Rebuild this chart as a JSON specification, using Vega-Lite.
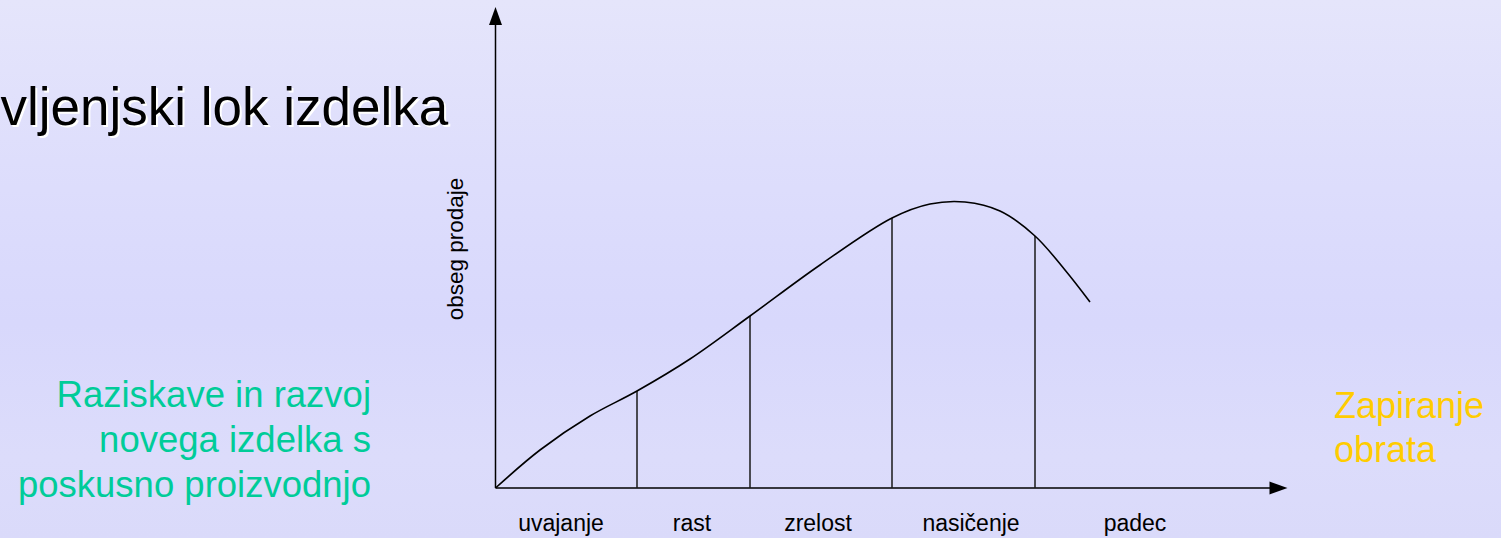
{
  "$schema": "https://vega.github.io/schema/vega-lite/v6.json",
  "width": 1501,
  "height": 538,
  "padding": 0,
  "autosize": {"type": "fit", "contains": "padding"},
  "background": "#dcdcfb",
  "config": {"view": {"stroke": null}, "font": "Liberation Sans"},
  "datasets": {
    "curve": [
      {"t": 0, "s": 0}, {"t": 44.5, "s": 38}, {"t": 94.5, "s": 72}, {"t": 141.5, "s": 97},
      {"t": 194.5, "s": 129}, {"t": 254.5, "s": 172}, {"t": 324.5, "s": 223}, {"t": 396.5, "s": 270},
      {"t": 434.5, "s": 284}, {"t": 469.5, "s": 286}, {"t": 504.5, "s": 277}, {"t": 539.5, "s": 252},
      {"t": 569.5, "s": 218}, {"t": 594.5, "s": 186}
    ],
    "bounds": [
      {"t": 141.5, "s": 97}, {"t": 254.5, "s": 172}, {"t": 396.5, "s": 270}, {"t": 539.5, "s": 252}
    ],
    "phases": [
      {"t": 65.5, "s": -43, "label": "uvajanje"},
      {"t": 196.5, "s": -43, "label": "rast"},
      {"t": 322.5, "s": -43, "label": "zrelost"},
      {"t": 475.5, "s": -43, "label": "nasičenje"},
      {"t": 639.5, "s": -43, "label": "padec"}
    ]
  },
  "encoding": {
    "x": {"field": "t", "type": "quantitative", "scale": {"domain": [-495.5, 1005.5], "nice": false, "zero": false}, "axis": null},
    "y": {"field": "s", "type": "quantitative", "scale": {"domain": [-50, 488], "nice": false, "zero": false}, "axis": null}
  },
  "layer": [
    {
      "data": {"values": [{"t": -495.5, "s": 488, "t2": 1005.5, "s2": -50}]},
      "mark": {"type": "rect", "color": {"gradient": "linear", "x1": 0, "y1": 0, "x2": 0, "y2": 1,
        "stops": [{"offset": 0, "color": "#e5e5fb"}, {"offset": 0.3, "color": "#dedefc"}, {"offset": 0.6, "color": "#d8d8fc"}, {"offset": 0.85, "color": "#dcdcfb"}, {"offset": 1, "color": "#dadafa"}]}},
      "encoding": {"x2": {"field": "t2"}, "y2": {"field": "s2"}}
    },
    {
      "data": {"values": [{"t": 0, "s": 0, "t2": 775, "s2": 0}, {"t": 0, "s": 0, "t2": 0, "s2": 463}]},
      "mark": {"type": "rule", "color": "#000000", "strokeWidth": 1.5},
      "encoding": {"x2": {"field": "t2"}, "y2": {"field": "s2"}}
    },
    {
      "data": {"values": [{"t": 783, "s": 0}]},
      "mark": {"type": "point", "shape": "M-1,-0.72L1,0L-1,0.72Z", "size": 324, "filled": true, "color": "#000000", "opacity": 1},
      "encoding": {}
    },
    {
      "data": {"values": [{"t": 0, "s": 472}]},
      "mark": {"type": "point", "shape": "M-0.72,1L0,-1L0.72,1Z", "size": 324, "filled": true, "color": "#000000", "opacity": 1},
      "encoding": {}
    },
    {
      "data": {"name": "bounds"},
      "mark": {"type": "rule", "color": "#1a1a1a", "strokeWidth": 1.5},
      "encoding": {"y": {"datum": 0}, "y2": {"field": "s"}}
    },
    {
      "data": {"name": "curve"},
      "mark": {"type": "line", "color": "#000000", "strokeWidth": 1.6, "interpolate": "catmull-rom"},
      "encoding": {}
    },
    {
      "data": {"name": "phases"},
      "mark": {"type": "text", "fontSize": 23, "color": "#000000", "align": "center", "baseline": "alphabetic"},
      "encoding": {"text": {"field": "label"}}
    },
    {
      "data": {"values": [{"t": -39.5, "s": 239, "label": "obseg prodaje"}]},
      "mark": {"type": "text", "fontSize": 22.5, "color": "#000000", "align": "center", "baseline": "middle", "angle": 270},
      "encoding": {"text": {"field": "label"}}
    },
    {
      "data": {"values": [{"t": -495, "s": 363, "label": "vljenjski lok izdelka"}]},
      "mark": {"type": "text", "fontSize": 53, "color": "#ffffff", "align": "left", "baseline": "alphabetic", "dx": 2, "dy": 2},
      "encoding": {"text": {"field": "label"}}
    },
    {
      "data": {"values": [{"t": -495, "s": 363, "label": "vljenjski lok izdelka"}]},
      "mark": {"type": "text", "fontSize": 53, "color": "#000000", "align": "left", "baseline": "alphabetic"},
      "encoding": {"text": {"field": "label"}}
    },
    {
      "data": {"values": [
        {"t": -124.5, "s": 81, "label": "Raziskave in razvoj"},
        {"t": -124.5, "s": 36, "label": "novega izdelka s"},
        {"t": -124.5, "s": -9, "label": "poskusno proizvodnjo"}
      ]},
      "mark": {"type": "text", "fontSize": 36.5, "color": "#00cc99", "align": "right", "baseline": "alphabetic"},
      "encoding": {"text": {"field": "label"}}
    },
    {
      "data": {"values": [
        {"t": 838.5, "s": 70, "label": "Zapiranje"},
        {"t": 838.5, "s": 26, "label": "obrata"}
      ]},
      "mark": {"type": "text", "fontSize": 36, "color": "#ffcc00", "align": "left", "baseline": "alphabetic"},
      "encoding": {"text": {"field": "label"}}
    }
  ]
}
